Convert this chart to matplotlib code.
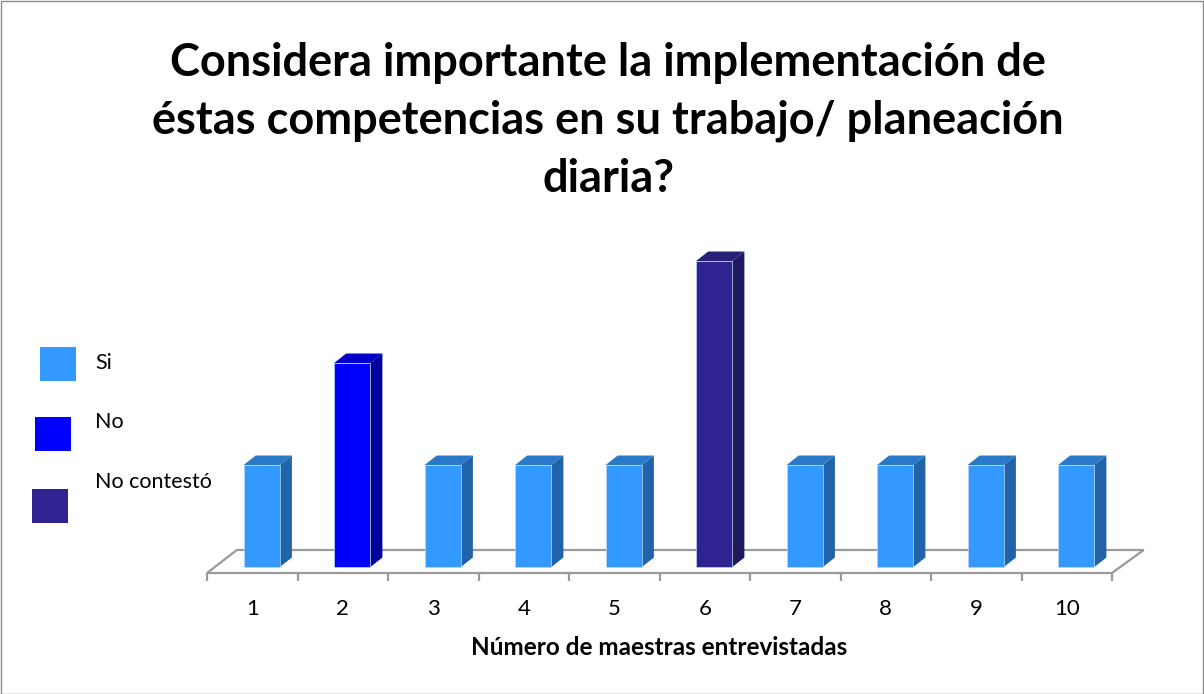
import numpy as np
import matplotlib
matplotlib.use("Agg")
import matplotlib.pyplot as plt
from matplotlib.patches import Polygon, Rectangle

# data
maestras = [1, 2, 3, 4, 5, 6, 7, 8, 9, 10]
respuesta = [1, 2, 1, 1, 1, 3, 1, 1, 1, 1]  # 1 = Si, 2 = No, 3 = No contestó
leyenda = ["Si", "No", "No contestó"]

# colours per answer: front, side, top
front = {1: "#3399ff", 2: "#0000ff", 3: "#2e2390"}
side = {1: "#2063a8", 2: "#00009c", 3: "#1e185e"}
top = {1: "#2a79c8", 2: "#0000c8", 3: "#262078"}

plt.rcParams['font.family'] = ['Lato', 'DejaVu Sans']

fig = plt.figure(figsize=(12.04, 6.94), dpi=100)
W, H = 1204, 694
ax = fig.add_axes([207 / W, (H - 573) / H, 905 / W, 333 / H])
ax.set_xlim(0.5, 10.5)
ax.set_ylim(-6 / 102, 327 / 102)

# floor
fy0, fy1 = -6 / 102, 17 / 102
floor = Polygon([(0.5, fy0), (10.5, fy0), (10.5 + 0.35, fy1), (0.5 + 0.33, fy1)],
                closed=True, facecolor="white", edgecolor="#9a9a9a", lw=1.6,
                clip_on=False, zorder=1)
ax.add_patch(floor)

# bars with fake depth
bw = 0.40
off = 0.105
dx, dy = 0.133, 0.093
for m, r in zip(maestras, respuesta):
    x0 = m + off - bw / 2
    x1 = x0 + bw
    ax.bar(x0, r, width=bw, align="edge", color=front[r], edgecolor="#b8d6f5",
           lw=0.5, zorder=3)
    ax.add_patch(Polygon([(x1, 0), (x1 + dx, dy), (x1 + dx, r + dy), (x1, r)],
                         closed=True, facecolor=side[r], edgecolor="none", zorder=2))
    ax.add_patch(Polygon([(x0, r), (x0 + dx, r + dy), (x1 + dx, r + dy), (x1, r)],
                         closed=True, facecolor=top[r], edgecolor="none", zorder=2))

for s in ["top", "right", "left", "bottom"]:
    ax.spines[s].set_visible(False)
ax.set_yticks([])
ax.set_xticks(np.arange(0.5, 11, 1), minor=False)
ax.set_xticklabels([])
ax.tick_params(axis="x", which="major", direction="out", length=6, width=1.6,
               color="#9a9a9a")
ax.set_xticks(maestras, minor=True)
ax.set_xticklabels([str(m) for m in maestras], minor=True, fontsize=16)
ax.tick_params(axis="x", which="minor", length=0, pad=19)
ax.set_xlabel("Número de maestras entrevistadas", fontsize=17.5, fontweight="bold",
              labelpad=12)
ax.patch.set_alpha(0)

fig.text(608 / W, 1 - 121 / H,
         "Considera importante la implementación de\néstas competencias en su trabajo/ planeación\ndiaria?",
         ha="center", va="center", fontsize=32.5, fontweight="bold", linespacing=1.45)

# legend
sq = [(40, 347), (35, 417), (32, 489)]
ty = [363, 422, 482]
for (lx, ly), t, lab, r in zip(sq, ty, leyenda, [1, 2, 3]):
    fig.patches.append(Rectangle((lx / W, 1 - (ly + 34) / H), 36 / W, 34 / H,
                                 transform=fig.transFigure, facecolor=front[r],
                                 edgecolor="none"))
    fig.text(95 / W, 1 - t / H, lab, ha="left", va="center", fontsize=15.5)

# outer border
fig.patches.append(Rectangle((0.5 / W, 0.5 / H), 1 - 1.5 / W, 1 - 1.5 / H,
                             transform=fig.transFigure, fill=False,
                             edgecolor="#8c8c8c", lw=1))

fig.savefig("out.png", dpi=100)
